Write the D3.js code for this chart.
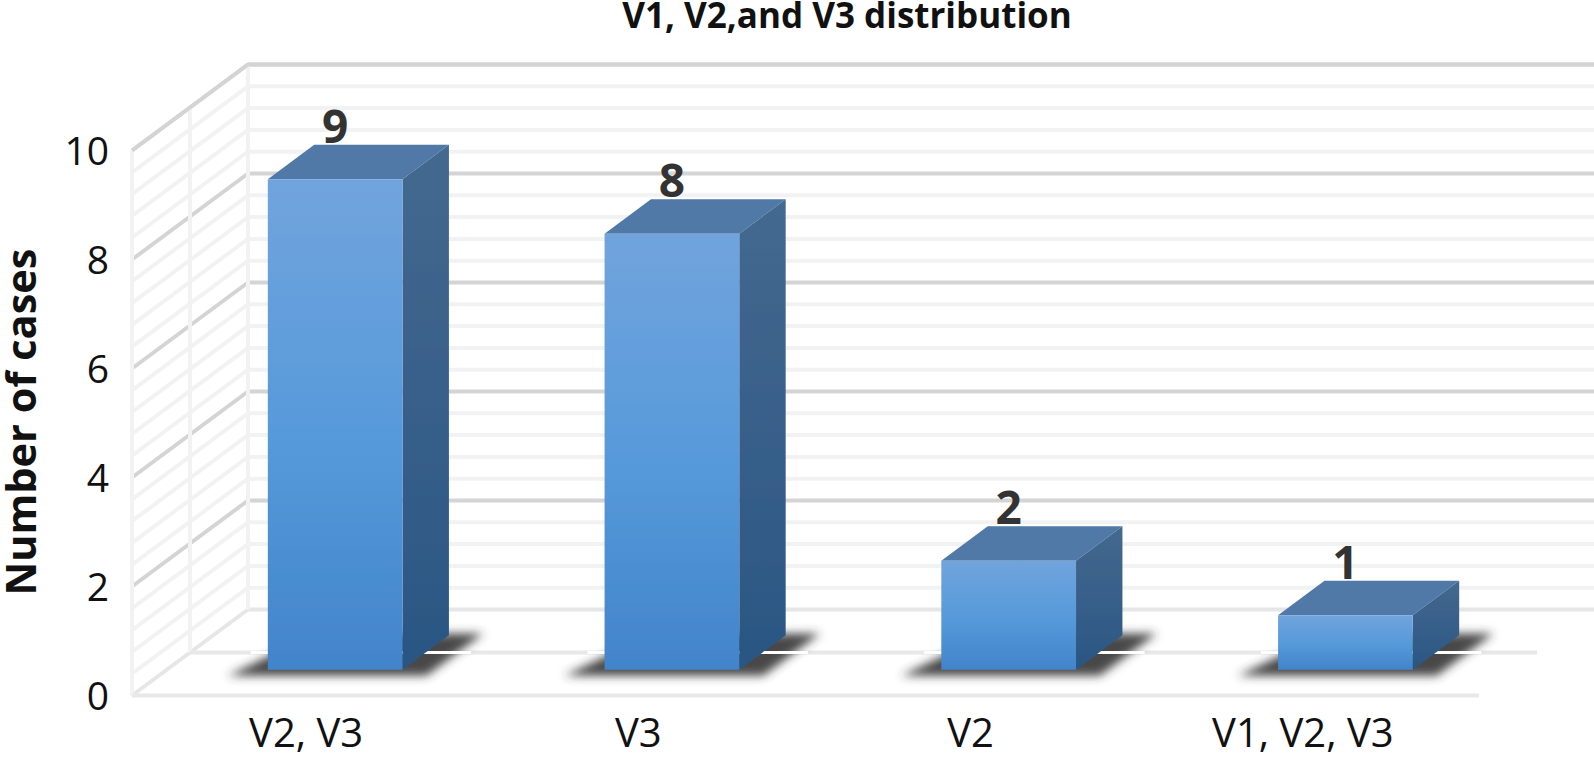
<!DOCTYPE html>
<html lang="en">
  <head>
    <meta charset="UTF-8" />
    <title>V1, V2,and V3 distribution</title>
    <script src="https://d3js.org/d3.v7.min.js"></script>
    <style>
      body {
        margin: 0;
        background-color: #fff;
      }
      svg {
        display: block;
      }
      text {
        font-family: "Open Sans", "Noto Sans", sans-serif;
      }
    </style>
  </head>
  <body>
    <svg id="chart" width="1594" height="757"></svg>

    <script>
      const categories = ["V2, V3", "V3", "V2", "V1, V2, V3"];
      const cases = [9, 8, 2, 1];
      const yTicks = [0, 2, 4, 6, 8, 10];
      const minorStep = 0.4;

      const chartTitle = "V1, V2,and V3 distribution";
      const yTitle = "Number of cases";

      const svg = d3.select("#chart");
      const defs = svg.append("defs");

      // front plane of the box, the depth gets added on top in project()
      const x = d3.scaleLinear().domain([0, 4]).range([132, 1479]);
      const y = d3.scaleLinear().domain([0, 10]).range([695.5, 150.5]);
      const depthX = d3.scaleLinear().domain([0, 1]).range([0, 116]);
      const depthY = d3.scaleLinear().domain([0, 1]).range([0, -86]);
      const labelX = d3
        .scaleBand()
        .domain(categories)
        .range([140, 1469]);

      const project = (pos, value, depth) => [
        x(pos) + depthX(depth),
        y(value) + depthY(depth),
      ];
      const poly = (pts) => pts.map((p) => p.join(",")).join(" ");

      const frontGrad = defs
        .append("linearGradient")
        .attr("id", "frontGrad")
        .attr("x1", 0)
        .attr("y1", 0)
        .attr("x2", 0)
        .attr("y2", 1);
      frontGrad.append("stop").attr("offset", "0%").attr("stop-color", "#71a4dd");
      frontGrad.append("stop").attr("offset", "55%").attr("stop-color", "#5599da");
      frontGrad.append("stop").attr("offset", "100%").attr("stop-color", "#4284ca");

      const sideGrad = defs
        .append("linearGradient")
        .attr("id", "sideGrad")
        .attr("x1", 0)
        .attr("y1", 0)
        .attr("x2", 0)
        .attr("y2", 1);
      sideGrad.append("stop").attr("offset", "0%").attr("stop-color", "#44698f");
      sideGrad.append("stop").attr("offset", "100%").attr("stop-color", "#2a5683");

      defs
        .append("filter")
        .attr("id", "soft")
        .append("feGaussianBlur")
        .attr("stdDeviation", 0.6);
      defs
        .append("filter")
        .attr("id", "shadowBlur")
        .attr("x", "-20%")
        .attr("y", "-40%")
        .attr("width", "140%")
        .attr("height", "180%")
        .append("feGaussianBlur")
        .attr("stdDeviation", 5);

      // grid lines, every 0.4 with a heavier one on the labelled values
      const gridLevels = d3.range(0, 26).map((i) => +(i * minorStep).toFixed(1));
      const isMajor = (v) => yTicks.includes(v);
      const grid = svg.append("g").attr("filter", "url(#soft)");

      const lineColor = (v) => (v === 0 ? "#e6e6e6" : isMajor(v) ? "#d4d4d4" : "#f2f2f2");

      grid
        .selectAll(".back-wall")
        .data(gridLevels.slice().reverse())
        .enter()
        .append("line")
        .attr("class", "back-wall")
        .attr("x1", (v) => project(0, v, 1)[0])
        .attr("y1", (v) => project(0, v, 1)[1])
        .attr("x2", (v) => project(4, v, 1)[0])
        .attr("y2", (v) => project(4, v, 1)[1])
        .attr("stroke", lineColor)
        .attr("stroke-width", 4);

      grid
        .selectAll(".side-wall")
        .data(gridLevels.slice().reverse())
        .enter()
        .append("line")
        .attr("class", "side-wall")
        .attr("x1", (v) => project(0, v, 0)[0])
        .attr("y1", (v) => project(0, v, 0)[1])
        .attr("x2", (v) => project(0, v, 1)[0])
        .attr("y2", (v) => project(0, v, 1)[1])
        .attr("stroke", lineColor)
        .attr("stroke-width", 4);

      // upright lines on the side wall
      grid
        .selectAll(".wall-post")
        .data([0, 0.5, 1])
        .enter()
        .append("line")
        .attr("class", "wall-post")
        .attr("x1", (d) => project(0, 0, d)[0])
        .attr("y1", (d) => project(0, 0, d)[1])
        .attr("x2", (d) => project(0, 10, d)[0])
        .attr("y2", (d) => project(0, 10, d)[1])
        .attr("stroke", "#f2f2f2")
        .attr("stroke-width", 4);

      // floor lines, front and middle (the back one is the 0 of the back wall)
      grid
        .selectAll(".floor")
        .data([0, 0.5])
        .enter()
        .append("line")
        .attr("class", "floor")
        .attr("x1", (d) => project(0, 0, d)[0])
        .attr("y1", (d) => project(0, 0, d)[1])
        .attr("x2", (d) => project(4, 0, d)[0])
        .attr("y2", (d) => project(4, 0, d)[1])
        .attr("stroke", "#e8e8e8")
        .attr("stroke-width", 4);

      // top line of the box again so it stays on top of the minor ones
      grid
        .append("polyline")
        .attr("points", poly([project(0, 10, 0), project(0, 10, 1), project(4, 10, 1)]))
        .attr("fill", "none")
        .attr("stroke", "#d4d4d4")
        .attr("stroke-width", 4);

      const barData = categories.map((name, i) => ({
        name,
        value: cases[i],
        left: i + 0.3,
        right: i + 0.7,
      }));
      const z0 = 0.3;
      const z1 = 0.7;

      const bars = svg
        .selectAll(".bar")
        .data(barData)
        .enter()
        .append("g")
        .attr("class", "bar");

      // shadow on the floor, leaning to the right
      bars
        .append("polygon")
        .attr("points", (d) =>
          poly([
            project(d.left - 0.095, 0, z0 - 0.07),
            project(d.right + 0.095, 0, z0 - 0.07),
            project(d.right + 0.095, 0, z1 + 0.02),
            project(d.left, 0, z1 + 0.02),
          ])
        )
        .attr("fill", "#333")
        .attr("fill-opacity", 0.9)
        .attr("filter", "url(#shadowBlur)");

      // bit of the middle floor line that shows white across the shadow
      bars
        .append("line")
        .attr("x1", (d) => project(d.left - 0.12, 0, 0.5)[0])
        .attr("y1", (d) => project(d.left, 0, 0.5)[1])
        .attr("x2", (d) => project(d.right + 0.135, 0, 0.5)[0])
        .attr("y2", (d) => project(d.left, 0, 0.5)[1])
        .attr("stroke", "#fff")
        .attr("stroke-width", 3);

      const faces = bars.append("g").attr("filter", "url(#soft)");

      faces
        .append("polygon")
        .attr("points", (d) =>
          poly([
            project(d.left, d.value, z0),
            project(d.right, d.value, z0),
            project(d.right, d.value, z1),
            project(d.left, d.value, z1),
          ])
        )
        .attr("fill", "#5179a7");

      faces
        .append("polygon")
        .attr("points", (d) =>
          poly([
            project(d.right, 0, z0),
            project(d.right, d.value, z0),
            project(d.right, d.value, z1),
            project(d.right, 0, z1),
          ])
        )
        .attr("fill", "url(#sideGrad)");

      faces
        .append("polygon")
        .attr("points", (d) =>
          poly([
            project(d.left, 0, z0),
            project(d.right, 0, z0),
            project(d.right, d.value, z0),
            project(d.left, d.value, z0),
          ])
        )
        .attr("fill", "url(#frontGrad)");

      bars
        .append("text")
        .attr("x", (d) => project((d.left + d.right) / 2, d.value, z0)[0])
        .attr("y", (d) => project(d.left, d.value, z1)[1] - 2)
        .attr("text-anchor", "middle")
        .attr("font-size", 46)
        .attr("font-weight", 700)
        .attr("fill", "#333")
        .text((d) => d.value);

      // axis labels
      svg
        .selectAll(".y-tick")
        .data(yTicks)
        .enter()
        .append("text")
        .attr("class", "y-tick")
        .attr("x", 109)
        .attr("y", (d) => y(d))
        .attr("dy", "0.36em")
        .attr("text-anchor", "end")
        .attr("font-size", 39)
        .attr("fill", "#111")
        .text((d) => d);

      svg
        .selectAll(".x-tick")
        .data(categories)
        .enter()
        .append("text")
        .attr("class", "x-tick")
        .attr("x", (d) => labelX(d) + labelX.bandwidth() / 2)
        .attr("y", 747)
        .attr("text-anchor", "middle")
        .attr("font-size", 40)
        .attr("fill", "#111")
        .text((d) => d);

      svg
        .append("text")
        .attr("transform", "translate(36,422) rotate(-90)")
        .attr("text-anchor", "middle")
        .attr("font-size", 41.5)
        .attr("font-weight", 700)
        .attr("fill", "#111")
        .text(yTitle);

      svg
        .append("text")
        .attr("x", 847)
        .attr("y", 28)
        .attr("text-anchor", "middle")
        .attr("font-size", 35)
        .attr("font-weight", 700)
        .attr("fill", "#111")
        .text(chartTitle);
    </script>
  </body>
</html>
